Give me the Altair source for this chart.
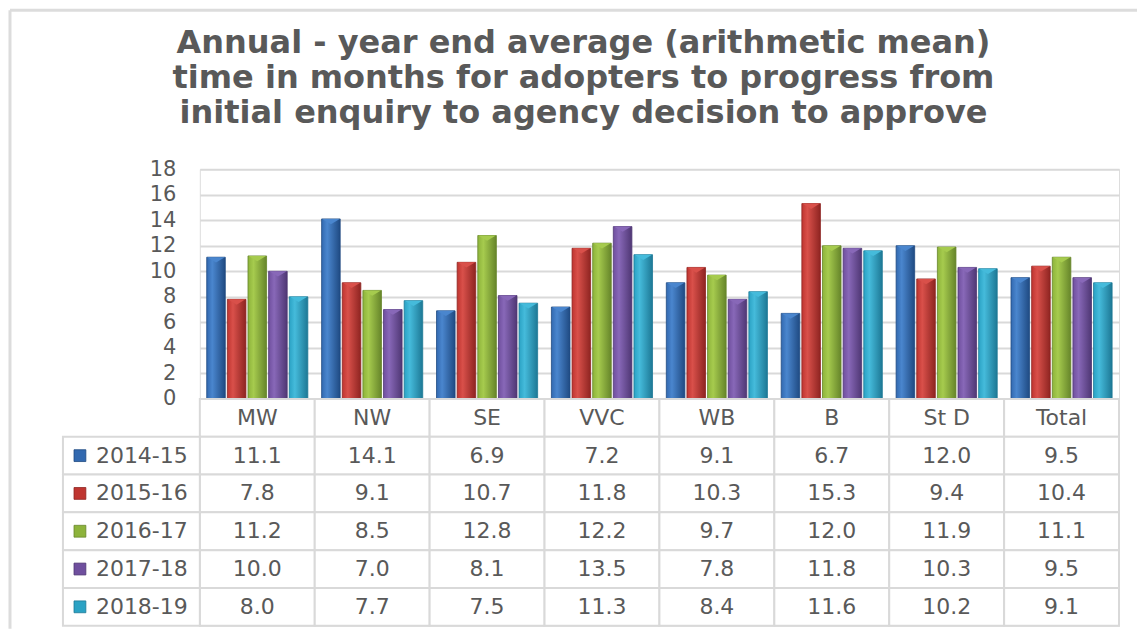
import altair as alt
import pandas as pd

categories = ["MW", "NW", "SE", "VVC", "WB", "B", "St D", "Total"]
series_names = ["2014-15", "2015-16", "2016-17", "2017-18", "2018-19"]
v_2014_15 = [11.1, 14.1, 6.9, 7.2, 9.1, 6.7, 12.0, 9.5]
v_2015_16 = [7.8, 9.1, 10.7, 11.8, 10.3, 15.3, 9.4, 10.4]
v_2016_17 = [11.2, 8.5, 12.8, 12.2, 9.7, 12.0, 11.9, 11.1]
v_2017_18 = [10.0, 7.0, 8.1, 13.5, 7.8, 11.8, 10.3, 9.5]
v_2018_19 = [8.0, 7.7, 7.5, 11.3, 8.4, 11.6, 10.2, 9.1]
all_values = [v_2014_15, v_2015_16, v_2016_17, v_2017_18, v_2018_19]

col_mid = ["#3269B0", "#BF3530", "#8DB33B", "#6F4F9E", "#2AA2C4"]
col_light = ["#4A86CE", "#D9504A", "#A6CB4E", "#8868B8", "#45BBDB"]
col_dark = ["#1F4A82", "#8E2421", "#66852A", "#4F3774", "#1D7895"]

title_lines = [
    "Annual  - year end average (arithmetic mean)",
    "time in months for adopters to progress from",
    "initial enquiry to agency decision to approve",
]

TXT = "#595959"
GRID = "#d9d9d9"
FONT = "DejaVu Sans"

rows = []
for s, vals in zip(series_names, all_values):
    for c, v in zip(categories, vals):
        rows.append({"category": c, "series": s, "value": v})
df = pd.DataFrame(rows)

x_bar = alt.X("category:N", sort=categories,
              scale=alt.Scale(domain=categories, paddingInner=0.12, paddingOuter=0.06),
              axis=None)
xoff = alt.XOffset("series:N", sort=series_names,
                   scale=alt.Scale(domain=series_names, paddingInner=0.1, paddingOuter=0.0))
y_bar = alt.Y("value:Q", scale=alt.Scale(domain=[0, 18], nice=False),
              axis=alt.Axis(values=list(range(0, 19, 2)), title=None, domain=False,
                            ticks=False, labelFontSize=21, labelColor=TXT, labelFont=FONT,
                            labelPadding=24, gridColor=GRID, gridWidth=2))

layers = []
for i, s in enumerate(series_names):
    grad = alt.LinearGradient(
        gradient="linear", x1=0, x2=1, y1=0, y2=0,
        stops=[alt.GradientStop(offset=0, color=col_mid[i]),
               alt.GradientStop(offset=0.3, color=col_light[i]),
               alt.GradientStop(offset=1, color=col_dark[i])])
    base = alt.Chart(df).transform_filter(alt.datum.series == s)
    layers.append(base.mark_bar(fill=grad, stroke=col_dark[i], strokeWidth=0.8)
                  .encode(x=x_bar, xOffset=xoff, y=y_bar))
    layers.append(base.mark_point(shape="M-1,0L1,0L0,0.6Z", filled=True, size=310,
                                  color=col_light[i], opacity=1)
                  .encode(x=x_bar, xOffset=xoff, y=y_bar))

# light outer frame (left and top edges of the picture)
frame_df = pd.DataFrame({"f": [0]})
frame_top = alt.Chart(frame_df).mark_rule(color="#dcdcdc", strokeWidth=3).encode(
    x=alt.value(-190), x2=alt.value(938), y=alt.value(-159))
frame_left = alt.Chart(frame_df).mark_rule(color="#dcdcdc", strokeWidth=3).encode(
    x=alt.value(-190), y=alt.value(-159), y2=alt.value(460))

bars = alt.layer(frame_top, frame_left, *layers).properties(width=920, height=230)

# data table
rows_order = ["hdr"] + series_names
cells = []
for c_i, c in enumerate(categories):
    cells.append({"category": c, "row": "hdr", "text": c})
    for s, vals in zip(series_names, all_values):
        cells.append({"category": c, "row": s, "text": f"{vals[c_i]:.1f}"})
cells_df = pd.DataFrame(cells)
legend_df = pd.DataFrame({"row": series_names})

x_t = alt.X("category:N", sort=categories,
            scale=alt.Scale(domain=categories, paddingInner=0, paddingOuter=0), axis=None)
y_t = alt.Y("row:N", sort=rows_order,
            scale=alt.Scale(domain=rows_order, paddingInner=0, paddingOuter=0), axis=None)

cell_rects = alt.Chart(cells_df).mark_rect(fill="white", stroke=GRID, strokeWidth=2).encode(x=x_t, y=y_t)
cell_text = alt.Chart(cells_df).mark_text(fontSize=22, color=TXT, font=FONT).encode(x=x_t, y=y_t, text="text:N")
left_rects = alt.Chart(legend_df).mark_rect(fill="white", stroke=GRID, strokeWidth=2).encode(
    x=alt.value(-137), x2=alt.value(0), y=y_t)
left_text = alt.Chart(legend_df).mark_text(fontSize=22, color=TXT, font=FONT, align="left").encode(
    x=alt.value(-104), y=y_t, text="row:N")
left_sq = alt.Chart(legend_df).mark_point(shape="square", filled=True, size=140, opacity=1,
                                          strokeWidth=0.8).encode(
    x=alt.value(-120), y=y_t,
    fill=alt.Fill("row:N", scale=alt.Scale(domain=series_names, range=col_mid), legend=None),
    stroke=alt.Stroke("row:N", scale=alt.Scale(domain=series_names, range=col_dark), legend=None))

table = alt.layer(cell_rects, cell_text, left_rects, left_text, left_sq).properties(width=920, height=227)

chart = alt.vconcat(bars, table, spacing=0, bounds="flush").properties(
    title=alt.TitleParams(text=title_lines, fontSize=32, font="DejaVu Sans", fontWeight="bold",
                          color=TXT, lineHeight=35, anchor="middle", dx=10, offset=-122),
    padding={"left": 0, "top": 0, "right": 0, "bottom": 5},
).configure_view(stroke=None).configure(background="white")

chart.save("out.html", embed_options={"renderer": "svg", "actions": False})
